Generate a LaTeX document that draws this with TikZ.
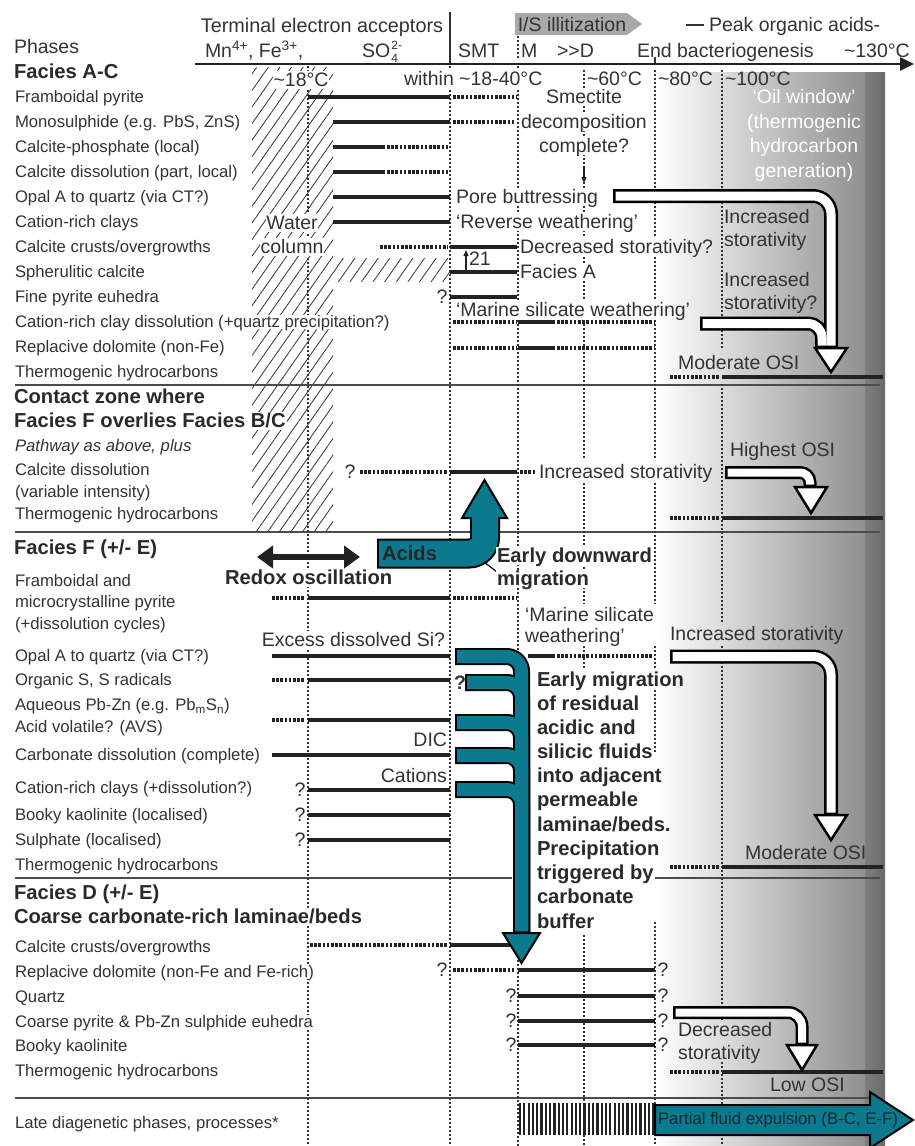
\documentclass[tikz,border=0pt]{standalone}
\usepackage{fontspec}
\setmainfont{Liberation Sans}
\usetikzlibrary{arrows.meta,patterns.meta}
\definecolor{txt}{HTML}{333333}
\definecolor{hdc}{HTML}{2A2A2A}
\definecolor{barc}{HTML}{222222}
\definecolor{tealc}{RGB}{12,122,142}
\definecolor{gbar}{RGB}{144,144,144}
\definecolor{gband1}{RGB}{126,126,126}
\definecolor{gband2}{RGB}{106,106,106}
\definecolor{isg}{HTML}{A8A8A8}
\definecolor{exptxt}{HTML}{0A2A33}
\newcommand{\fsL}{\fontsize{16.7pt}{19pt}\selectfont}
\newcommand{\fsA}{\fontsize{19.5pt}{23pt}\selectfont}
\newcommand{\fsH}{\fontsize{20.2pt}{23pt}\selectfont}
\newcommand{\fsS}{\fontsize{12pt}{14pt}\selectfont}
\begin{document}
\begin{tikzpicture}[x=1pt,y=-1pt,
  lab/.style={anchor=west,inner sep=0.8pt,text=txt,font=\fsL,text height=12.3pt,text depth=1pt,fill=white},
  hd/.style={anchor=west,inner sep=0.8pt,text=hdc,font=\fsH\bfseries,text height=14.5pt,text depth=1pt,fill=white},
  ann/.style={anchor=west,inner sep=0.8pt,text=txt,font=\fsA,text height=14.5pt,text depth=1pt},
  annw/.style={ann,fill=white},
  anne/.style={ann,anchor=east,fill=white},
  bld/.style={ann,font=\fsH\bfseries,text=hdc},
  oil/.style={ann,anchor=center,text=white},
  qm/.style={ann,anchor=center,inner sep=0pt},
  smallscr/.style={anchor=west,inner sep=0pt,text=txt,font=\fsS},
  solidbar/.style={line width=4.2pt,draw=barc},
  dotbar/.style={line width=4.2pt,draw=barc,dash pattern=on 2.6pt off 1.6pt},
  vdotted/.style={line width=1.1pt,draw=txt,dash pattern=on 2pt off 2pt},
  sepline/.style={line width=1.2pt,draw=black!70},
  wout/.style={draw=black,line width=14pt},
  win/.style={draw=white,line width=9pt},
  whead/.style={fill=white,draw=black,line width=2.5pt,line join=miter},
  tout/.style={draw=black,line width=17pt},
  tin/.style={draw=tealc,line width=13pt},
  thead/.style={fill=tealc,draw=black,line width=2pt,line join=miter},
]
\useasboundingbox (0,0) rectangle (915,1146);
\fill[white] (0,0) rectangle (915,1146);

% gradient (oil window)
\shade[left color=white,right color=gbar] (655,72) rectangle (865,1146);
\shade[left color=gband1,right color=gband2] (865,72) rectangle (885,1146);

% hatched water column
\fill[pattern={Lines[angle=55,distance=9.5pt,line width=0.8pt]},pattern color=black!80] (252,67) rectangle (333,532);
\fill[pattern={Lines[angle=55,distance=9.5pt,line width=0.8pt]},pattern color=black!80] (333,258) rectangle (450,281);

% separators
\draw[sepline] (15,385) -- (880,385);
\draw[sepline] (15,532) -- (880,532);
\draw[sepline] (15,878) -- (512,878) (655,878) -- (880,878);
\draw[sepline] (15,1098) -- (880,1098);

% vertical dotted lines
\draw[vdotted] (308,66) -- (308,1146);
\draw[vdotted] (450,66) -- (450,1146);
\draw[vdotted] (518,36) -- (518,58);
\draw[vdotted] (518,66) -- (518,300) (518,320) -- (518,1146);
\draw[vdotted] (584,70) -- (584,237) (584,257) -- (584,300) (584,320) -- (584,460) (584,483) -- (584,604) (584,646) -- (584,668) (584,935) -- (584,1146);
\draw[vdotted] (655,70) -- (655,237) (655,257) -- (655,300) (655,320) -- (655,460) (655,483) -- (655,604) (655,646) -- (655,668) (655,690) -- (655,752) (655,922) -- (655,1146);
\draw[vdotted] (722,70) -- (722,350) (722,384) -- (722,624) (722,646) -- (722,1020) (722,1062) -- (722,1146);
\draw[line width=1.2pt,black!80] (655,57) -- (655,64);
\draw[line width=1.2pt,black!80] (450,12) -- (450,64);

% header
\fill[isg] (515,13) -- (627,13) -- (642,24) -- (627,35) -- (515,35) -- cycle;
\draw[line width=2.5pt,barc,-{Triangle[length=14pt,width=13pt]}] (195,64) -- (914,64);
\node[ann,anchor=center,font=\fontsize{19.8pt}{23pt}\selectfont] (hTEA) at (322,26) {Terminal electron acceptors};
\node[ann,anchor=center] (hIS) at (572,25) {I/S illitization};
\draw[line width=1.5pt,txt] (686,25) -- (704,25);
\node[ann] (hPeak) at (708,25) {Peak organic acids-};
\node[ann] (hPh) at (13,47) {Phases};
\node[ann] (hMn) at (204,51) {Mn\textsuperscript{4+}, Fe\textsuperscript{3+},};
\node[ann] (hSO) at (361,51) {SO};
\node[smallscr] (hSOsup) at ([yshift=6pt]hSO.east) {2-};
\node[smallscr] (hSOsub) at ([yshift=-7pt]hSO.east) {4};
\node[ann] (hSMT) at (457,51) {SMT};
\node[ann] (hM) at (520,51) {M};
\node[ann] (hD) at (556,51) {>\kern0pt>D};
\node[ann] (hEnd) at (636,51) {End bacteriogenesis};
\node[ann] (h130) at (843,51) {\textasciitilde130°C};
\node[annw,anchor=center] (t18) at (301,80) {\textasciitilde18°C};
\node[annw] (t1840) at (403,79) {within \textasciitilde18-40°C};
\node[ann] (t60) at (586,79) {\textasciitilde60°C};
\node[ann] (t80) at (657,79) {\textasciitilde80°C};
\node[ann] (t100) at (724,79) {\textasciitilde100°C};

% ---------- bars ----------
% Facies A-C
\draw[solidbar] (308,97) -- (450,97);  \draw[dotbar] (453,97) -- (517,97);
\draw[solidbar] (333,122) -- (450,122); \draw[dotbar] (453,122) -- (515,122);
\draw[solidbar] (333,147) -- (385,147); \draw[dotbar] (387,147) -- (448,147);
\draw[solidbar] (333,172) -- (385,172); \draw[dotbar] (387,172) -- (448,172);
\draw[solidbar] (333,197) -- (450,197);
\draw[solidbar] (333,222) -- (450,222);
\draw[dotbar] (380,247) -- (448,247); \draw[solidbar] (450,247) -- (517,247);
\draw[solidbar] (450,272) -- (517,272);
\draw[solidbar] (450,297) -- (517,297);
\draw[dotbar] (453,322) -- (517,322); \draw[solidbar] (518,322) -- (555,322); \draw[dotbar] (557,322) -- (655,322);
\draw[dotbar] (453,348) -- (517,348); \draw[solidbar] (518,348) -- (555,348); \draw[dotbar] (557,348) -- (655,348);
\draw[dotbar] (670,377) -- (720,377); \draw[solidbar] (722,377) -- (883,377);
% contact zone
\draw[dotbar] (360,472) -- (448,472); \draw[solidbar] (450,472) -- (517,472); \draw[dotbar] (520,472) -- (536,472);
\draw[dotbar] (670,518) -- (720,518); \draw[solidbar] (722,518) -- (883,518);
% Facies F
\draw[dotbar] (272,598) -- (305,598); \draw[solidbar] (308,598) -- (450,598); \draw[dotbar] (453,598) -- (517,598);
\draw[solidbar] (272,656) -- (450,656); \draw[solidbar] (528,656) -- (555,656); \draw[dotbar] (557,656) -- (653,656);
\draw[dotbar] (272,680) -- (305,680); \draw[solidbar] (308,680) -- (450,680);
\draw[dotbar] (272,720) -- (305,720); \draw[solidbar] (308,720) -- (450,720);
\draw[solidbar] (272,755) -- (450,755);
\draw[solidbar] (308,790) -- (450,790);
\draw[solidbar] (308,815) -- (450,815);
\draw[solidbar] (308,840) -- (450,840);
\draw[dotbar] (670,867) -- (720,867); \draw[solidbar] (722,867) -- (883,867);
% Facies D
\draw[dotbar] (310,945) -- (448,945); \draw[solidbar] (450,945) -- (512,945);
\draw[dotbar] (453,970) -- (516,970); \draw[solidbar] (518,970) -- (655,970);
\draw[solidbar] (518,996) -- (655,996);
\draw[solidbar] (518,1021) -- (655,1021);
\draw[solidbar] (518,1045) -- (655,1045);
\draw[dotbar] (670,1072) -- (720,1072); \draw[solidbar] (722,1072) -- (883,1072);
% late diagenetic vertical stripes
\foreach \i in {0,...,31} \draw[line width=2.2pt,barc] ({520+\i*4.3},1103) -- ++(0,32);

% thin arrows
\draw[line width=1.2pt,barc,-{Triangle[length=6pt,width=5pt]}] (466,271) -- (466,250);
\draw[line width=1.2pt,barc,-{Triangle[length=6pt,width=5pt]}] (584,166) -- (584,183);

% ---------- white arrows ----------
\draw[wout,rounded corners=18pt] (613,196) -| (831,349);
\draw[wout,rounded corners=14pt] (700,323.5) -| (822,349);
\draw[whead] (815,348) -- (847,348) -- (831,372) -- cycle;
\draw[win,rounded corners=18pt] (615.5,196) -| (831,345.5);
\draw[win,rounded corners=14pt] (702.5,323.5) -| (822,345.5);

\draw[wout,line width=13pt,rounded corners=10pt] (725,472.5) -| (810,488);
\draw[whead] (795,487) -- (827,487) -- (811,513) -- cycle;
\draw[win,line width=8pt,rounded corners=10pt] (727.5,472.5) -| (810,484.5);

\draw[wout,rounded corners=18pt] (670,656.5) -| (831,816);
\draw[whead] (815,815) -- (847,815) -- (831,840) -- cycle;
\draw[win,rounded corners=18pt] (672.5,656.5) -| (831,812.5);

\draw[wout,line width=13pt,rounded corners=14pt] (673,1012.5) -| (802,1046);
\draw[whead] (787,1045) -- (817,1045) -- (802,1070) -- cycle;
\draw[win,line width=8pt,rounded corners=14pt] (675.5,1012.5) -| (802,1042.5);

% ---------- teal arrows ----------
% Acids
\draw[draw=black,line width=30pt,rounded corners=16pt] (377,553.5) -- (485,553.5) -- (485,519);
\draw[thead] (462,518) -- (507,518) -- (484.5,480) -- cycle;
\draw[draw=tealc,line width=26pt,rounded corners=16pt] (379,553.5) -- (485,553.5) -- (485,516);
\draw[line width=1.2pt,black] (484,562) -- (497,572);
% early migration
\draw[tout,rounded corners=15pt] (455,656.5) -| (521.5,934);
\draw[tout,rounded corners=15pt] (465,682.5) -| (521.5,934);
\draw[tout,rounded corners=15pt] (455,722.5) -| (521.5,934);
\draw[tout,rounded corners=15pt] (455,755.5) -| (521.5,934);
\draw[tout,rounded corners=15pt] (455,789.5) -| (521.5,934);
\draw[thead] (503,933) -- (540,933) -- (521.5,963) -- cycle;
\draw[tin,rounded corners=15pt] (457,656.5) -| (521.5,931);
\draw[tin,rounded corners=15pt] (467,682.5) -| (521.5,931);
\draw[tin,rounded corners=15pt] (457,722.5) -| (521.5,931);
\draw[tin,rounded corners=15pt] (457,755.5) -| (521.5,931);
\draw[tin,rounded corners=15pt] (457,789.5) -| (521.5,931);
% partial fluid expulsion
\draw[thead] (655,1105) -- (870,1105) -- (870,1092) -- (913,1120) -- (870,1148) -- (870,1135) -- (655,1135) -- cycle;

% redox double arrow
\draw[line width=6pt,barc,{Triangle[length=16pt,width=22pt]}-{Triangle[length=16pt,width=22pt]}] (257,557) -- (360,557);

% ---------- left labels ----------
\node[hd] (LA0) at (13,72) {Facies A-C};
\node[lab] (LA1) at (14,97) {Framboidal pyrite};
\node[lab] (LA2) at (14,122) {Monosulphide (e.g. PbS, ZnS)};
\node[lab] (LA3) at (14,147) {Calcite-phosphate (local)};
\node[lab] (LA4) at (14,172) {Calcite dissolution (part, local)};
\node[lab] (LA5) at (14,197) {Opal A to quartz (via CT?)};
\node[lab] (LA6) at (14,222) {Cation-rich clays};
\node[lab] (LA7) at (14,247) {Calcite crusts/overgrowths};
\node[lab] (LA8) at (14,272) {Spherulitic calcite};
\node[lab] (LA9) at (14,297) {Fine pyrite euhedra};
\node[lab] (LA10) at (14,322) {Cation-rich clay dissolution (+quartz precipitation?)};
\node[lab] (LA11) at (14,347) {Replacive dolomite (non-Fe)};
\node[lab] (LA12) at (14,372) {Thermogenic hydrocarbons};

\node[hd] (LC0) at (13,397) {Contact zone where};
\node[hd] (LC1) at (13,421) {Facies F overlies Facies B/C};
\node[lab,font=\fsL\itshape] (LC2) at (14,446) {Pathway as above, plus};
\node[lab] (LC3) at (14,470) {Calcite dissolution};
\node[lab] (LC4) at (14,492) {(variable intensity)};
\node[lab] (LC5) at (14,514) {Thermogenic hydrocarbons};

\node[hd] (LF0) at (13,548) {Facies F (+/- E)};
\node[lab] (LF1) at (14,581) {Framboidal and};
\node[lab] (LF2) at (14,602) {microcrystalline pyrite};
\node[lab] (LF3) at (14,624) {(+dissolution cycles)};
\node[lab] (LF4) at (14,656) {Opal A to quartz (via CT?)};
\node[lab] (LF5) at (14,680) {Organic S, S radicals};
\node[lab] (LF6) at (14,705) {Aqueous Pb-Zn (e.g. Pb\textsubscript{m}S\textsubscript{n})};
\node[lab] (LF7) at (14,727) {Acid volatile? (AVS)};
\node[lab] (LF8) at (14,755) {Carbonate dissolution (complete)};
\node[lab] (LF9) at (14,788) {Cation-rich clays (+dissolution?)};
\node[lab] (LF10) at (14,815) {Booky kaolinite (localised)};
\node[lab] (LF11) at (14,840) {Sulphate (localised)};
\node[lab] (LF12) at (14,865) {Thermogenic hydrocarbons};

\node[hd] (LD0) at (13,893) {Facies D (+/- E)};
\node[hd] (LD1) at (13,917) {Coarse carbonate-rich laminae/beds};
\node[lab] (LD2) at (14,947) {Calcite crusts/overgrowths};
\node[lab] (LD3) at (14,972) {Replacive dolomite (non-Fe and Fe-rich)};
\node[lab] (LD4) at (14,997) {Quartz};
\node[lab] (LD5) at (14,1022) {Coarse pyrite \& Pb-Zn sulphide euhedra};
\node[lab] (LD6) at (14,1046) {Booky kaolinite};
\node[lab] (LD7) at (14,1071) {Thermogenic hydrocarbons};
\node[lab] (LL) at (14,1123) {Late diagenetic phases, processes*};

% ---------- annotations ----------
\node[annw,anchor=center] (wat) at (292,223) {Water};
\node[annw,anchor=center] (col) at (292,247) {column};
\node[annw] (sm1) at (545,97) {Smectite};
\node[annw] (sm2) at (520,122) {decomposition};
\node[annw] (sm3) at (538,146) {complete?};
\node[oil] (oil1) at (804,97) {‘Oil window’};
\node[oil] (oil2) at (804,122) {(thermogenic};
\node[oil] (oil3) at (804,146) {hydrocarbon};
\node[oil] (oil4) at (804,171) {generation)};
\node[annw] (pore) at (455,197) {Pore buttressing};
\node[annw] (rev) at (455,222) {‘Reverse weathering’};
\node[ann] (decs) at (519,247) {Decreased storativity?};
\node[ann] (n21) at (468,259) {21};
\node[annw] (facA) at (519,272) {Facies A};
\node[qm] (q1) at (442,297) {?};
\node[ann] (msw) at (455,310) {‘Marine silicate weathering’};
\node[ann] (inc1) at (723,217) {Increased};
\node[ann] (inc2) at (723,240) {storativity};
\node[ann] (inc3) at (723,280) {Increased};
\node[ann] (inc4) at (723,303) {storativity?};
\node[ann] (mod1) at (677,363) {Moderate OSI};

\node[qm] (q2) at (350,472) {?};
\node[ann] (incC) at (538,472) {Increased storativity};
\node[ann] (high) at (729,450) {Highest OSI};

\node[bld,fill=white] (redox) at (224,578) {Redox oscillation};
\node[bld,text=black!85] (acids) at (381,554) {Acids};
\node[bld,fill=white] (edm1) at (496,556) {Early downward};
\node[bld,fill=white] (edm2) at (496,579) {migration};
\node[ann] (msw2) at (524,615) {‘Marine silicate};
\node[ann] (msw3) at (524,636) {weathering’};
\node[anne] (exs) at (446,640) {Excess dissolved Si?};
\node[qm,font=\fsA\bfseries] (q3) at (460,683) {?};
\node[anne] (dic) at (448,740) {DIC};
\node[anne] (cat) at (448,776) {Cations};
\node[qm] (q4) at (300,790) {?};
\node[qm] (q5) at (300,815) {?};
\node[qm] (q6) at (300,840) {?};
\node[ann] (incF) at (669,634) {Increased storativity};
\node[ann] (mod2) at (744,853) {Moderate OSI};

\node[bld] (em1) at (536,680) {Early migration};
\node[bld] (em2) at (536,704) {of residual};
\node[bld] (em3) at (536,728) {acidic and};
\node[bld] (em4) at (536,752) {silicic fluids};
\node[bld] (em5) at (536,776) {into adjacent};
\node[bld] (em6) at (536,800) {permeable};
\node[bld] (em7) at (536,825) {laminae/beds.};
\node[bld] (em8) at (536,849) {Precipitation};
\node[bld] (em9) at (536,873) {triggered by};
\node[bld] (em10) at (536,897) {carbonate};
\node[bld] (em11) at (536,922) {buffer};

\node[qm] (q7) at (442,970) {?};
\node[qm] (q8) at (511,996) {?};
\node[qm] (q9) at (511,1021) {?};
\node[qm] (q10) at (511,1045) {?};
\node[qm] (q11) at (663,970) {?};
\node[qm] (q12) at (663,996) {?};
\node[qm] (q13) at (663,1021) {?};
\node[qm] (q14) at (663,1045) {?};
\node[ann] (dec1) at (677,1030) {Decreased};
\node[ann] (dec2) at (677,1053) {storativity};
\node[ann] (low) at (769,1085) {Low OSI};
\node[anchor=center,inner sep=0pt,text=exptxt,font=\fontsize{16.8pt}{19pt}\selectfont] (pfe) at (778,1120) {Partial fluid expulsion (B-C, E-F)};
\end{tikzpicture}
\end{document}
